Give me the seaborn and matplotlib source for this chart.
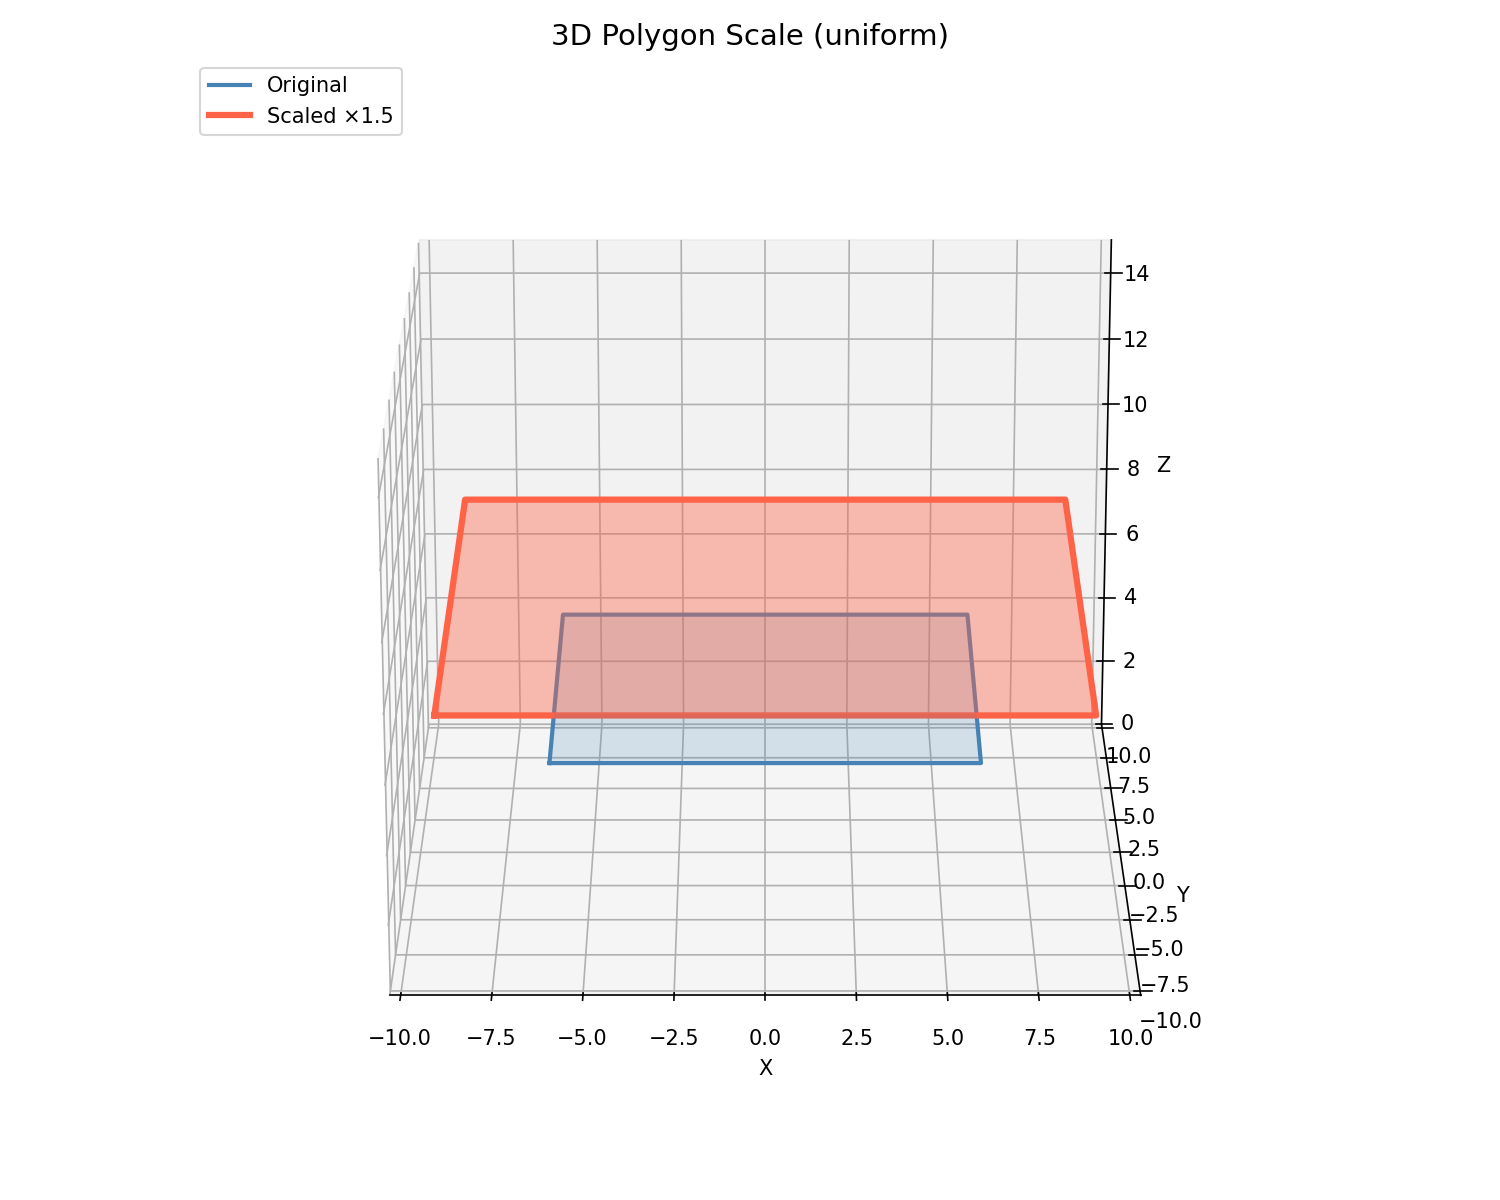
"""3D polygon scale chart: original square and uniformly scaled copy."""

import matplotlib
matplotlib.use("Agg")
import matplotlib.pyplot as plt
import seaborn as sns
from mpl_toolkits.mplot3d.art3d import Poly3DCollection

# ── DATA ──────────────────────────────────────────────────────────────────────

ORIG_X = [-6, 6, 6, -6, -6]
ORIG_Y = [-6, -6, 6, 6, -6]
ORIG_Z = [5, 5, 5, 5, 5]

SCALED_X = [-9, 9, 9, -9, -9]
SCALED_Y = [-9, -9, 9, 9, -9]
SCALED_Z = [7.5, 7.5, 7.5, 7.5, 7.5]

LABELS = ["Original", "Scaled ×1.5"]

# ── FIGURE ────────────────────────────────────────────────────────────────────

sns.reset_orig()
blue, red = sns.color_palette(["steelblue", "tomato"])

fig = plt.figure(figsize=(10, 8), dpi=150)
ax = fig.add_subplot(111, projection="3d")
ax.set_position([0.1268, 0.0190, 0.7465, 0.933])

for xs, ys, zs, color, lw, alpha, label in [
    (ORIG_X, ORIG_Y, ORIG_Z, blue, 2, 0.2, LABELS[0]),
    (SCALED_X, SCALED_Y, SCALED_Z, red, 3, 0.4, LABELS[1]),
]:
    ax.plot(xs, ys, zs, color=color, linewidth=lw, label=label)
    verts = [list(zip(xs[:-1], ys[:-1], zs[:-1]))]
    ax.add_collection3d(Poly3DCollection(verts, facecolor=color, edgecolor="none", alpha=alpha))

ax.set_xlim(-10.3, 10.3)
ax.set_ylim(-10.3, 10.3)
ax.set_zlim(0, 15)
ax.set_xlabel("X")
ax.set_ylabel("Y")
ax.set_zlabel("Z")
ax.view_init(elev=20, azim=-90)
ax.set_title("3D Polygon Scale (uniform)", fontsize=14)
ax.legend(loc="upper left", bbox_to_anchor=(0.1267, 0.952), bbox_transform=fig.transFigure)

fig.savefig("out.png", dpi=150)
